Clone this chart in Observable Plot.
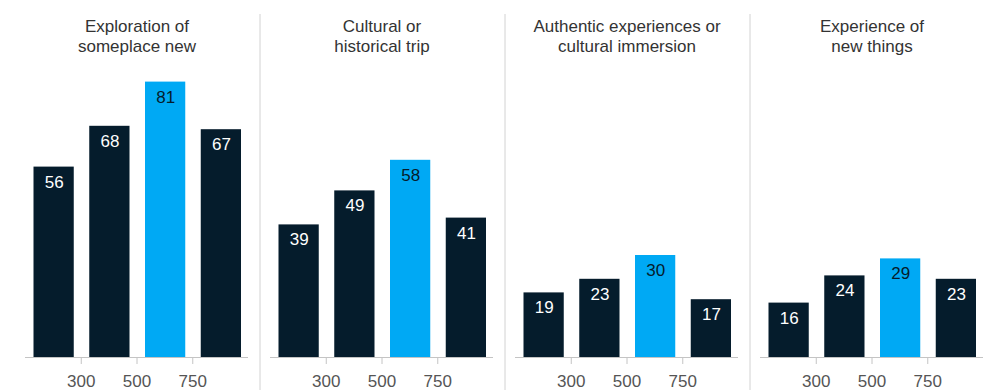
<!DOCTYPE html>
<html>
<head>
<meta charset="utf-8">
<script src="https://cdn.jsdelivr.net/npm/d3@7"></script>
<script src="https://cdn.jsdelivr.net/npm/@observablehq/plot@0.6"></script>
<style>
  html, body { margin: 0; padding: 0; background: #fff; }
  #chart svg { display: block; }
</style>
</head>
<body>
<div id="chart"></div>
<script>
// Data
const motivations = [
  "Exploration of\nsomeplace new",
  "Cultural or\nhistorical trip",
  "Authentic experiences or\ncultural immersion",
  "Experience of\nnew things"
];
const brackets = ["<300", "300–500", "500–750", ">750"];
const tickLabels = ["300", "500", "750"];
const highlight = "500–750";
const explorationValues = [56, 68, 81, 67];
const culturalValues = [39, 49, 58, 41];
const authenticValues = [19, 23, 30, 17];
const newThingsValues = [16, 24, 29, 23];
const seriesValues = [explorationValues, culturalValues, authenticValues, newThingsValues];

const data = motivations.flatMap((m, j) =>
  brackets.map((b, i) => ({m, b, i, v: seriesValues[j][i]}))
);

const navy = "#051c2c";
const blue = "#00a9f4";
const font = "'Liberation Sans', Arial, sans-serif";

const chart = Plot.plot({
  width: 1000,
  height: 390,
  marginLeft: 23,
  marginRight: 15,
  marginTop: 17,
  marginBottom: 33,
  style: {fontFamily: font, background: "#fff"},
  fx: {domain: motivations, paddingInner: 0.0894, paddingOuter: 0, axis: null},
  x: {domain: [0, 4], axis: null, label: null},
  y: {domain: [0, 100], axis: null},
  color: {domain: ["other", "highlight"], range: [navy, blue]},
  marks: [
    // separators between panels
    Plot.ruleX(motivations.slice(1), {
      fx: d => d, x: 0, dx: -10.5, stroke: "#d2d2d2",
      insetTop: -3, insetBottom: -33
    }),
    // panel titles
    Plot.text(motivations, {
      fx: d => d, text: d => d, frameAnchor: "top", lineAnchor: "top",
      lineHeight: 1.18, fontSize: 17, fill: "#333", dy: 0
    }),
    // bars
    Plot.rect(data, {
      fx: "m", x1: "i", x2: d => d.i + 1, y1: 0, y2: "v",
      insetLeft: 8.5, insetRight: 7,
      fill: d => d.b === highlight ? "highlight" : "other"
    }),
    // value labels
    Plot.text(data.filter(d => d.b !== highlight), {
      fx: "m", x: d => d.i + 0.5, y: "v", text: d => String(d.v),
      dy: 15, dx: 0.75, fill: "#fff", fontSize: 17
    }),
    Plot.text(data.filter(d => d.b === highlight), {
      fx: "m", x: d => d.i + 0.5, y: "v", text: d => String(d.v),
      dy: 15, dx: 0.75, fill: navy, fontSize: 17
    }),
    // baseline
    Plot.ruleY([0], {stroke: "#c4c4c4"}),
    // x axis with boundary ticks
    Plot.axisX({
      ticks: [1, 2, 3], tickFormat: d => tickLabels[d - 1],
      tickSize: 7, tickPadding: 10, fontSize: 17, label: null,
      stroke: "#c4c4c4", fill: "#555"
    })
  ]
});

document.getElementById("chart").appendChild(chart);
</script>
</body>
</html>
